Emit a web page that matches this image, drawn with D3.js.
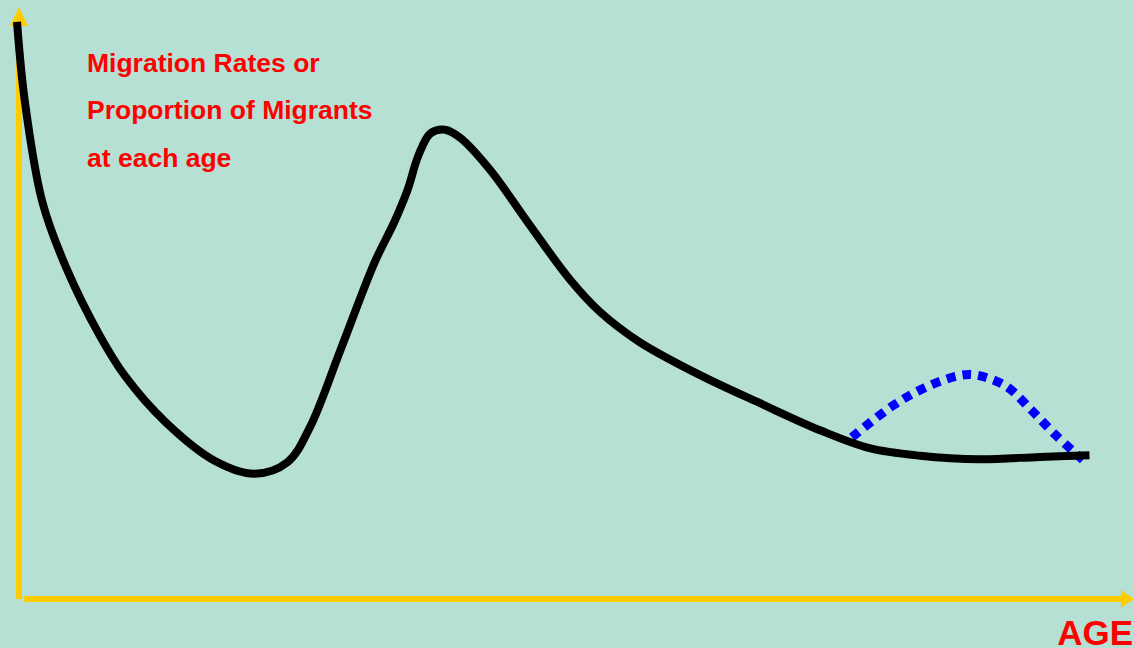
<!DOCTYPE html>
<html><head><meta charset="utf-8">
<script src="https://cdn.jsdelivr.net/npm/d3@7"></script>
<style>html,body{margin:0;padding:0;background:#b7e0d5;overflow:hidden}</style>
</head><body>
<svg id="c" width="1134" height="648"></svg>
<script>
// Age-specific migration schedule (schematic)
const ages  = [0, 0.7, 2.3, 4.5, 7.5, 9.8, 13.5, 18, 21.6, 24.6, 26.6, 29.4, 32.5, 34.3, 35.5, 36.5, 37.6, 38.9, 40.3, 43, 46.6, 50.3, 53, 56.6, 62.1, 67.5, 73, 77.5, 82.1, 87.5, 93, 97.5];
const rates = [99.5, 86, 68.5, 57, 45.5, 38.5, 30.5, 23.8, 21.6, 23.6, 29.5, 42.9, 58, 65, 70.5, 76.5, 80.3, 80.9, 79.5, 74, 64.5, 55, 49.5, 44.3, 38.6, 33.8, 29.1, 26, 24.7, 24.1, 24.5, 24.8];
// Retirement peak (dotted)
const retAges  = [75.9, 79.6, 82.5, 85.6, 87.2, 89.9, 92.2, 94.4, 96.9];
const retRates = [27.9, 33.3, 36.4, 38.5, 38.6, 36.7, 32.6, 28.3, 24.0];
const yLabel = ["Migration Rates or", "Proportion of Migrants", "at each age"];
const xLabel = "AGE";

const svg = d3.select("#c");
const W = 1134, H = 648;
svg.append("rect").attr("width", W).attr("height", H).attr("fill", "#b7e0d5");

const x = d3.scaleLinear().domain([0, 100]).range([17, 1117]);
const y = d3.scaleLinear().domain([0, 100]).range([599, 19]);

const yellow = "#ffcc00";
// axes
svg.append("line").attr("x1", 19).attr("x2", 19).attr("y1", 24).attr("y2", 599)
  .attr("stroke", yellow).attr("stroke-width", 6);
svg.append("path").attr("d", "M10,26L28,26L19,7Z").attr("fill", yellow);
svg.append("line").attr("x1", 24).attr("x2", 1122).attr("y1", 599).attr("y2", 599)
  .attr("stroke", yellow).attr("stroke-width", 6);
svg.append("path").attr("d", "M1121,590L1121,608L1134,599Z").attr("fill", yellow);

const line = d3.line().x(d => x(d[0])).y(d => y(d[1])).curve(d3.curveCatmullRom.alpha(0.5));

svg.append("path").datum(d3.zip(retAges, retRates)).attr("d", line)
  .attr("fill", "none").attr("stroke", "#0000ff").attr("stroke-width", 9)
  .attr("stroke-dasharray", "9,7");

svg.append("path").datum(d3.zip(ages, rates)).attr("d", line)
  .attr("fill", "none").attr("stroke", "#000").attr("stroke-width", 8)
  .attr("stroke-linejoin", "round");

svg.selectAll("text.yl").data(yLabel).enter().append("text")
  .attr("x", 87).attr("y", (d, i) => 71.5 + i * 47.5)
  .attr("fill", "#ff0000").attr("font-family", "Liberation Sans, Arial, sans-serif")
  .attr("font-weight", "bold").attr("font-size", 26.5).text(d => d);

svg.append("text").attr("x", 1133).attr("y", 645).attr("text-anchor", "end")
  .attr("fill", "#ff0000").attr("font-family", "Liberation Sans, Arial, sans-serif")
  .attr("font-weight", "bold").attr("font-size", 35).text(xLabel);
</script>
</body></html>
